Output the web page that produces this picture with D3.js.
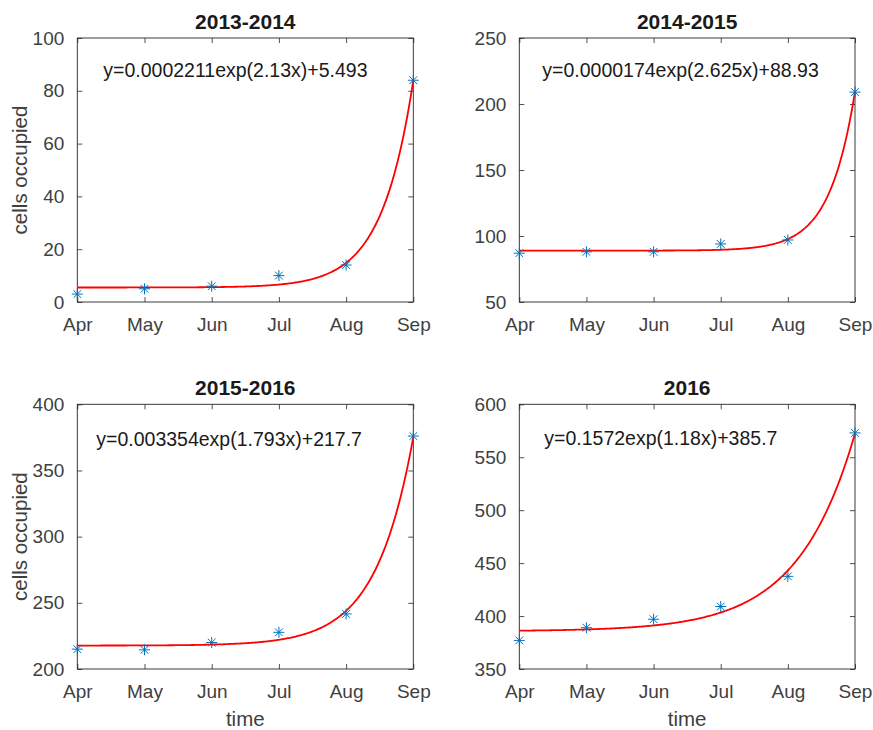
<!DOCTYPE html>
<html>
<head>
<meta charset="utf-8">
<script src="https://cdn.jsdelivr.net/npm/d3@7/dist/d3.min.js"></script>
<style>
  html, body { margin: 0; padding: 0; background: #fff; }
  svg { display: block; font-family: "Liberation Sans", Arial, Helvetica, sans-serif; }
</style>
</head>
<body>
<svg id="chart" width="873" height="730"></svg>
<script>
// Months on the x axis (x = 1..6)
const months = ["Apr", "May", "Jun", "Jul", "Aug", "Sep"];

// Seasons shown in the four panels
const seasons = ["2013-2014", "2014-2015", "2015-2016", "2016"];

// Observed counts of occupied cells per month
const obs20132014 = [3, 5, 6, 10, 14, 84];
const obs20142015 = [87, 88, 88, 94, 97, 209];
const obs20152016 = [215, 214.5, 220, 227.7, 241.6, 376];
const obs2016     = [377, 389, 397, 409, 437.5, 573];

// Fitted model y = a*exp(b*x) + c for each season
const fitA = [0.0002211, 0.0000174, 0.003354, 0.1572];
const fitB = [2.13, 2.625, 1.793, 1.18];
const fitC = [5.493, 88.93, 217.7, 385.7];
const fitLabels = [
  "y=0.0002211exp(2.13x)+5.493",
  "y=0.0000174exp(2.625x)+88.93",
  "y=0.003354exp(1.793x)+217.7",
  "y=0.1572exp(1.18x)+385.7"
];

// Y-axis ranges and ticks
const yDomains = [[0, 100], [50, 250], [200, 400], [350, 600]];
const yTicks = [
  [0, 20, 40, 60, 80, 100],
  [50, 100, 150, 200, 250],
  [200, 250, 300, 350, 400],
  [350, 400, 450, 500, 550, 600]
];

const observations = [obs20132014, obs20142015, obs20152016, obs2016];

// Panel layout (pixel boxes of each axes)
const layout = [
  { left: 77.3,  right: 413.3, top: 38,    bottom: 302, ylabel: true,  xlabel: false, eqDx: 26, eqDy: 39 },
  { left: 519.3, right: 855,   top: 38,    bottom: 302, ylabel: false, xlabel: false, eqDx: 23, eqDy: 39 },
  { left: 77.3,  right: 413.3, top: 404.3, bottom: 669, ylabel: true,  xlabel: true,  eqDx: 19, eqDy: 42 },
  { left: 519.3, right: 855,   top: 404.3, bottom: 669, ylabel: false, xlabel: true,  eqDx: 25, eqDy: 41 }
];

const axisColor = "#262626";
const tickTextColor = "#404040";
const markerColor = "#0072BD";
const tickLen = 5;

const svg = d3.select("#chart");

seasons.forEach((season, i) => {
  const L = layout[i];
  const g = svg.append("g");

  const x = d3.scaleLinear().domain([1, 6]).range([L.left, L.right]);
  const y = d3.scaleLinear().domain(yDomains[i]).range([L.bottom, L.top]);
  const xTickVals = d3.range(1, months.length + 1);

  // Bottom axis with month labels
  const xAxis = d3.axisBottom(x)
    .tickValues(xTickVals)
    .tickFormat(d => months[d - 1])
    .tickSizeInner(-tickLen).tickSizeOuter(0).tickPadding(16);
  const gx = g.append("g").attr("transform", `translate(0,${L.bottom})`).call(xAxis);
  gx.select(".domain").remove();
  gx.selectAll("line").attr("stroke", axisColor).attr("stroke-width", 0.8);
  gx.selectAll("text").attr("font-size", 19).attr("fill", tickTextColor)
    .attr("dy", "0.71em");

  // Top mirror ticks
  const gxt = g.append("g").attr("transform", `translate(0,${L.top})`)
    .call(d3.axisTop(x).tickValues(xTickVals).tickFormat("").tickSizeInner(-tickLen).tickSizeOuter(0));
  gxt.select(".domain").remove();
  gxt.selectAll("line").attr("stroke", axisColor).attr("stroke-width", 0.8);

  // Left axis
  const yAxis = d3.axisLeft(y).tickValues(yTicks[i])
    .tickSizeInner(-tickLen).tickSizeOuter(0).tickPadding(13);
  const gy = g.append("g").attr("transform", `translate(${L.left},0)`).call(yAxis);
  gy.select(".domain").remove();
  gy.selectAll("line").attr("stroke", axisColor).attr("stroke-width", 0.8);
  gy.selectAll("text").attr("font-size", 19).attr("fill", tickTextColor);

  // Right mirror ticks
  const gyr = g.append("g").attr("transform", `translate(${L.right},0)`)
    .call(d3.axisRight(y).tickValues(yTicks[i]).tickFormat("").tickSizeInner(-tickLen).tickSizeOuter(0));
  gyr.select(".domain").remove();
  gyr.selectAll("line").attr("stroke", axisColor).attr("stroke-width", 0.8);

  // Axes box
  g.append("rect")
    .attr("x", L.left).attr("y", L.top)
    .attr("width", L.right - L.left).attr("height", L.bottom - L.top)
    .attr("fill", "none").attr("stroke", axisColor).attr("stroke-width", 0.9);

  // Fitted curve
  const a = fitA[i], b = fitB[i], c = fitC[i];
  const xs = d3.range(0, 301).map(k => 1 + 5 * k / 300);
  const curve = xs.map(xv => [xv, a * Math.exp(b * xv) + c]);
  g.append("path")
    .datum(curve)
    .attr("fill", "none")
    .attr("stroke", "#ff0000")
    .attr("stroke-width", 1.8)
    .attr("d", d3.line().x(d => x(d[0])).y(d => y(d[1])));

  // Observed points as asterisk markers
  const r = 5.5;
  const star = `M${-r},0L${r},0M0,${-r}L0,${r}` +
    `M${-r * 0.707},${-r * 0.707}L${r * 0.707},${r * 0.707}` +
    `M${-r * 0.707},${r * 0.707}L${r * 0.707},${-r * 0.707}`;
  g.selectAll("path.pt")
    .data(observations[i])
    .enter().append("path")
    .attr("class", "pt")
    .attr("transform", (d, k) => `translate(${x(k + 1)},${y(d)})`)
    .attr("d", star)
    .attr("fill", "none")
    .attr("stroke", markerColor)
    .attr("stroke-width", 1);

  // Fit equation
  g.append("text")
    .attr("x", L.left + L.eqDx)
    .attr("y", L.top + L.eqDy)
    .attr("font-size", 19.5)
    .attr("fill", "#1a1a1a")
    .text(fitLabels[i]);

  // Title
  g.append("text")
    .attr("x", (L.left + L.right) / 2)
    .attr("y", L.top - 9)
    .attr("text-anchor", "middle")
    .attr("font-size", 21)
    .attr("font-weight", "bold")
    .attr("fill", "#1a1a1a")
    .text(season);

  // Axis titles
  if (L.ylabel) {
    g.append("text")
      .attr("transform", `translate(27,${(L.top + L.bottom) / 2}) rotate(-90)`)
      .attr("text-anchor", "middle")
      .attr("font-size", 20.5)
      .attr("fill", tickTextColor)
      .text("cells occupied");
  }
  if (L.xlabel) {
    g.append("text")
      .attr("x", (L.left + L.right) / 2)
      .attr("y", 726)
      .attr("text-anchor", "middle")
      .attr("font-size", 20.5)
      .attr("fill", tickTextColor)
      .text("time");
  }
});
</script>
</body>
</html>
